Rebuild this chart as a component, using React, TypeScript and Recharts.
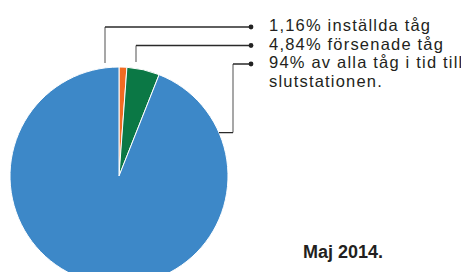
import { Pie, PieChart, Cell } from "recharts";

const categories = ["inställda tåg", "försenade tåg", "i tid till slutstationen"];
const shares = [1.16, 4.84, 94];
const labelLines = [
  "1,16% inställda tåg",
  "4,84% försenade tåg",
  "94% av alla tåg i tid till",
  "slutstationen.",
];
const period = "Maj 2014.";

const COLORS = ["#f26b22", "#0b7845", "#3d88c8"];
const FONT = "'Liberation Sans', Arial, Helvetica, sans-serif";

const data = categories.map((name, i) => ({ name, value: shares[i] }));

// legend layout: dots line up with the first three text lines
const DOT_X = 251;
const TEXT_X = 269;
const TOP = 27;
const LINE_H = 18.5;
const dotY = [TOP, TOP + LINE_H, TOP + 2 * LINE_H];

function Leader(props: any) {
  const { cx, cy, outerRadius, index } = props;
  const r = outerRadius;
  let vert = "";
  let horiz = "";
  const y = dotY[index];
  if (index === 0) {
    const x = cx - 14;
    vert = `M${x},${cy - r - 4}L${x},${y}`;
    horiz = `M${x},${y}L${DOT_X},${y}`;
  } else if (index === 1) {
    const x = cx + 17;
    vert = `M${x},${cy - r - 5}L${x},${y}`;
    horiz = `M${x},${y}L${DOT_X},${y}`;
  } else {
    const a = (23.5 * Math.PI) / 180;
    const px = cx + r * Math.cos(a);
    const py = cy - r * Math.sin(a);
    const x = 233;
    vert = `M${x},${py}L${x},${y}`;
    horiz = `M${px},${py}L${x},${py}M${x},${y}L${DOT_X},${y}`;
  }
  return (
    <g>
      <path d={vert} stroke="#8a8a8a" strokeWidth={1.5} fill="none" />
      <path d={horiz} stroke="#2a2a2a" strokeWidth={1.3} fill="none" />
      <circle cx={DOT_X} cy={y} r={2.4} fill="#222" />
    </g>
  );
}

export default function App() {
  return (
    <div style={{ width: 469, height: 280, margin: -8, background: "#fff" }}>
      <PieChart width={469} height={280} margin={{ top: 0, right: 0, bottom: 0, left: 0 }}>
        <Pie
          data={data}
          dataKey="value"
          cx={119}
          cy={176}
          outerRadius={109}
          startAngle={90}
          endAngle={-270}
          stroke="#fff"
          strokeWidth={1}
          label={Leader}
          labelLine={false}
          isAnimationActive={false}
        >
          {data.map((d, i) => (
            <Cell key={d.name} fill={COLORS[i]} />
          ))}
        </Pie>
        {labelLines.map((t, j) => (
          <text
            key={j}
            x={TEXT_X}
            y={TOP + 4 + j * LINE_H}
            fontSize={16.5}
            letterSpacing={1.2}
            fontFamily={FONT}
            fill="#231f20"
          >
            {t}
          </text>
        ))}
        <text x={303} y={258} fontSize={18} fontWeight="bold" fontFamily={FONT} fill="#231f20">
          {period}
        </text>
      </PieChart>
    </div>
  );
}
